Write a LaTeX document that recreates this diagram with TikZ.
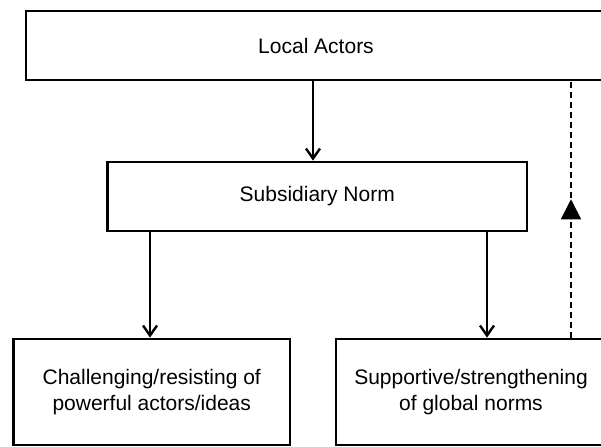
\documentclass[tikz,border=0pt]{standalone}
\usepackage{fontspec}
\setmainfont{Liberation Sans}
\usetikzlibrary{arrows.meta,positioning,decorations.markings}

\begin{document}
\begin{tikzpicture}[x=0.5pt,y=-0.5pt,
  box/.style={draw,line width=1.4pt,align=center,inner sep=0pt,
    font=\fontsize{10.5}{13}\selectfont},
  flow/.style={line width=1.2pt,
    -{Straight Barb[length=5pt,width=7pt,line width=1.2pt]}},
  feedback/.style={line width=0.9pt,dash pattern=on 3pt off 2pt,
    postaction={decorate},
    decoration={markings,
      mark=at position 0.54 with {\arrow{Triangle[length=10pt,width=10pt]}}}}]
  \useasboundingbox (0,0) rectangle (601,446);
  \clip (0,0) rectangle (601,446);
  % boxes
  \node[box,minimum width=290pt,minimum height=34.5pt] (actors) at (316,45.5) {Local Actors};
  \node[box,minimum width=209.75pt,minimum height=34.5pt] (subsidiary) at (317.25,196.5) {Subsidiary Norm};
  \node[box,minimum width=138.25pt,minimum height=53pt] (challenge) at (151.75,392) {Challenging/resisting of\\powerful actors/ideas};
  \node[box,minimum width=135pt,minimum height=53pt] (support) at (471,392) {Supportive/strengthening\\of global norms};
  % connectors
  \coordinate (down) at (313,0);
  \coordinate (right) at (487,0);
  \coordinate (back) at (571,0);
  \draw[flow] (down |- actors.south) -- (down |- subsidiary.north);
  \draw[flow] (subsidiary.south -| 150,0) -- (150,0 |- challenge.north);
  \draw[flow] (right |- subsidiary.south) -- (right |- support.north);
  \draw[feedback] (back |- support.north) -- (back |- actors.south); % feedback line
\end{tikzpicture}
\end{document}
